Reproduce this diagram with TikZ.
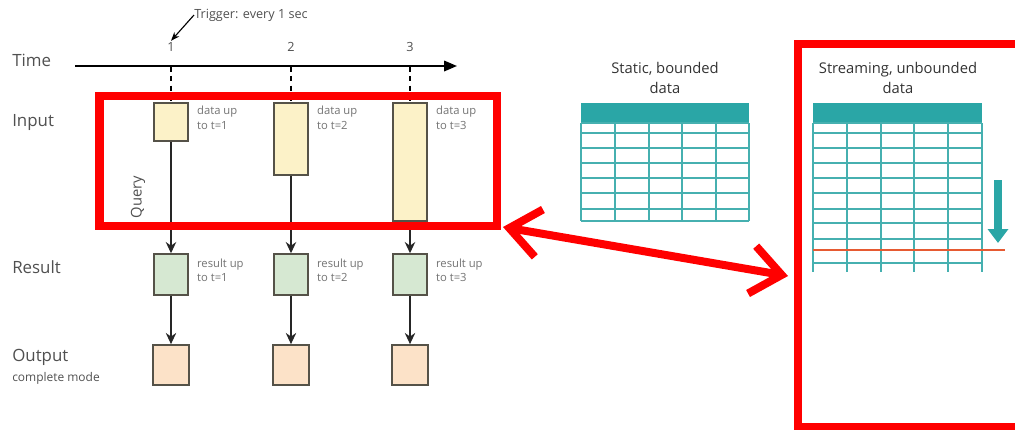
\documentclass[tikz,border=0pt]{standalone}
\usepackage{fontspec}
\setmainfont{Open Sans}
\usetikzlibrary{arrows.meta,positioning}
\definecolor{InputClr}{RGB}{252,242,200}
\definecolor{ResultClr}{RGB}{214,232,210}
\definecolor{OutputClr}{RGB}{252,226,200}
\definecolor{EdgeClr}{RGB}{85,82,72}
\definecolor{TextClr}{RGB}{80,80,80}
\definecolor{NoteClr}{RGB}{115,115,115}
\definecolor{TealClr}{RGB}{42,166,166}
\definecolor{GridClr}{RGB}{70,176,176}
\definecolor{FrameClr}{RGB}{255,0,0}
\definecolor{CutClr}{RGB}{230,90,50}

\tikzset{
  box/.style={draw=EdgeClr,line width=1.2pt,inner sep=0pt},
  inbox/.style={box,fill=InputClr,minimum width=0.85cm},
  resbox/.style={box,fill=ResultClr,minimum width=0.85cm,minimum height=1.02cm},
  outbox/.style={box,fill=OutputClr,minimum width=0.9cm,minimum height=1cm},
  rowlabel/.style={anchor=west,text=TextClr,inner sep=0pt,font=\fontsize{12}{14}\selectfont},
  note/.style={anchor=north west,align=left,text=NoteClr,inner sep=0pt,font=\fontsize{8}{10.5}\selectfont},
  ticklabel/.style={text=TextClr,inner sep=1pt,font=\fontsize{9}{11}\selectfont},
  title/.style={align=center,text=black!80,inner sep=0pt,font=\fontsize{10.5}{14}\selectfont},
  flow/.style={draw=black!85,line width=1.1pt,-{Stealth[length=2.8mm,width=2.6mm]}},
  gridline/.style={draw=GridClr,line width=1.1pt},
  redframe/.style={draw=FrameClr,line width=0.2cm},
}

\begin{document}
\begin{tikzpicture}[x=0.025cm,y=-0.025cm]
\useasboundingbox (0,0) rectangle (1015,429);

\coordinate (ax0) at (75,66);
\coordinate (ax1) at (457,66);
\draw[line width=1.4pt,-{Triangle[length=3.2mm,width=2.6mm]}] (ax0) -- (ax1);

\node[rowlabel] (time) at (12,60) {Time};
\node[rowlabel] (input) at (12,123) {Input};
\node[rowlabel] (result) at (12,267) {Result};
\node[rowlabel] (output) at (12,357) {Output};
\node[rowlabel,font=\fontsize{8.5}{10}\selectfont] (mode) at (12,378) {complete mode};

\node[anchor=west,text=TextClr,inner sep=0pt,font=\fontsize{9}{11}\selectfont] (trig) at (194,15) {Trigger: every 1 sec};
\node[rotate=90,text=TextClr,font=\fontsize{10.5}{12}\selectfont] (query) at (138,197) {Query};

\node[inbox,minimum height=0.95cm] (in1) at (171,122) {};
\node[inbox,minimum height=1.8cm] (in2) at (291,139) {};
\node[inbox,minimum height=2.95cm] (in3) at (410,162) {};

\foreach \i/\x in {1/171,2/291,3/410}{
  \coordinate (t\i) at (\x,66);
  \node[ticklabel] (n\i) at (\x,47) {\i};
  \node[resbox] (res\i) at (\x,274.5) {};
  \node[outbox] (out\i) at (\x,365) {};
  \draw[line width=0.8pt,dash pattern=on 4pt off 3pt] (t\i) -- (in\i.north);
  \draw[flow] (in\i) -- (res\i);
  \draw[flow] (res\i) -- (out\i);
  \node[note] (din\i) at ([shift={(8,4)}]in\i.north east) {data up\\to t=\i};
  \node[note] (dres\i) at ([shift={(8,5)}]res\i.north east) {result up\\to t=\i};
}

\draw[line width=0.8pt,-{Stealth[length=2.2mm]}] (trig.west) -- (n1.north);

\node[title] (static) at (665,78) {Static, bounded\\data};
\node[title] (stream) at (898,78) {Streaming, unbounded\\data};

\fill[TealClr] (581,103) rectangle (749,123);
\foreach \y in {123,133,148,163,178,193,209,221}
  \draw[gridline] (581,\y) -- (749,\y);
\foreach \x in {581,615,649,682,716,749}
  \draw[gridline] (\x,123) -- (\x,221);

\fill[TealClr] (813,103) rectangle (982,123);
\foreach \y in {123,133,148,163,178,193,209,223,239,263}
  \draw[gridline] (813,\y) -- (982,\y);
\foreach \x in {813,847,881,914,948,982}
  \draw[gridline] (\x,123) -- (\x,272);
\draw[CutClr,line width=1pt] (813,250) -- (1005,250);
\draw[TealClr,line width=0.2cm,-{Triangle[length=0.35cm,width=0.5cm]}] (998,180) -- (998,243);

\draw[redframe] (99.5,95.5) rectangle (497,225.5);
\draw[redframe] (797.5,43.5) rectangle (1040,427);

\coordinate (la) at (503,227);
\coordinate (ra) at (788,276);
\draw[FrameClr,line width=0.2cm,{Straight Barb[length=0.75cm,width=1.2cm]}-{Straight Barb[length=0.75cm,width=1.2cm]}] (la) -- (ra);

\end{tikzpicture}
\end{document}
